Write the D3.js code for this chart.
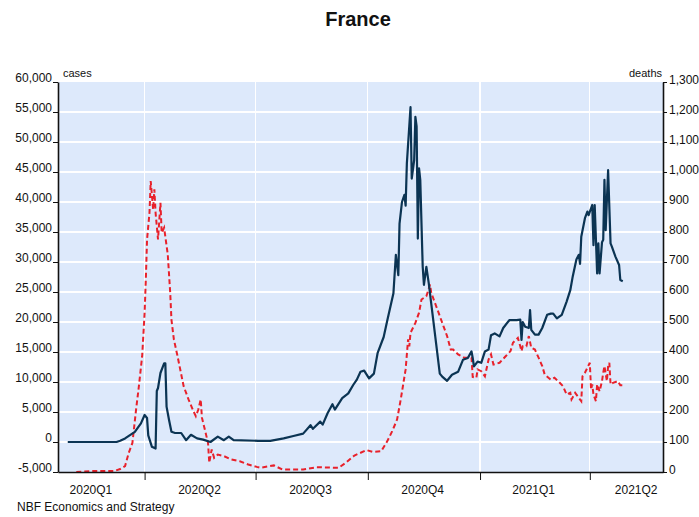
<!DOCTYPE html>
<meta charset="utf-8">
<style>
body { margin: 0; background: #fff; }
svg text { font-family: Arial, "Liberation Sans", sans-serif; fill: #111; }
.axis path, .axis line { stroke: #111; }
.grid line { stroke: #fff; stroke-width: 1.3; shape-rendering: crispEdges; }
</style>
<body>
<svg width="699" height="517"></svg>
<script src="https://d3js.org/d3.v7.min.js"></script>
<script>

// daily new cases (left axis)
var caseDates = ["2020-01-29","2020-03-09","2020-03-12","2020-03-16","2020-03-24","2020-03-29","2020-04-01","2020-04-03","2020-04-04","2020-04-07",
  "2020-04-10","2020-04-11","2020-04-12","2020-04-14","2020-04-17","2020-04-18","2020-04-19","2020-04-21","2020-04-23","2020-04-26",
  "2020-05-01","2020-05-05","2020-05-09","2020-05-14","2020-05-19","2020-05-25","2020-05-31","2020-06-05","2020-06-09","2020-06-13",
  "2020-07-03","2020-07-13","2020-07-24","2020-08-01","2020-08-09","2020-08-15","2020-08-17","2020-08-23","2020-08-25","2020-08-29",
  "2020-09-02","2020-09-04","2020-09-10","2020-09-15","2020-09-19","2020-09-22","2020-09-25","2020-09-28","2020-10-02","2020-10-06",
  "2020-10-09","2020-10-14","2020-10-17","2020-10-22","2020-10-24","2020-10-26","2020-10-27","2020-10-29","2020-10-31","2020-11-01",
  "2020-11-02","2020-11-05","2020-11-06","2020-11-08","2020-11-09","2020-11-10","2020-11-11","2020-11-12","2020-11-13","2020-11-15",
  "2020-11-16","2020-11-18","2020-11-20","2020-11-23","2020-11-26","2020-11-29","2020-12-01","2020-12-05","2020-12-09","2020-12-14",
  "2020-12-18","2020-12-22","2020-12-25","2020-12-26","2020-12-27","2020-12-30","2021-01-02","2021-01-05","2021-01-08","2021-01-10",
  "2021-01-13","2021-01-17","2021-01-20","2021-01-25","2021-01-31","2021-02-03","2021-02-04","2021-02-05","2021-02-07","2021-02-10",
  "2021-02-11","2021-02-12","2021-02-15","2021-02-18","2021-02-21","2021-02-25","2021-02-28","2021-03-02","2021-03-05","2021-03-09",
  "2021-03-13","2021-03-16","2021-03-18","2021-03-21","2021-03-23","2021-03-24","2021-03-25","2021-03-28","2021-03-30","2021-03-31",
  "2021-04-03","2021-04-04","2021-04-05","2021-04-07","2021-04-08","2021-04-09","2021-04-11","2021-04-12","2021-04-13","2021-04-14",
  "2021-04-16","2021-04-18","2021-04-19","2021-04-22","2021-04-25","2021-04-26","2021-04-28"];
var caseValues = [0,0,200,600,1700,3100,4500,4000,1100,-800,
  -1100,8500,9000,11500,13100,13100,5900,3700,1700,1500,
  1500,300,1200,600,400,0,900,300,900,300,
  200,200,600,1000,1400,2800,2200,3400,2900,4800,
  6300,5400,7300,8100,9500,10400,11700,11900,10600,11400,
  14800,17500,20300,24800,31200,27800,36400,40000,41200,39400,
  46400,55800,43900,47000,54200,52600,33900,45600,43700,29200,
  26200,29200,26400,21400,16400,11400,10900,10200,11200,11700,
  13700,14000,15100,14000,12600,13400,13200,15100,15400,17800,
  18100,17600,19000,20300,20300,20400,17000,20000,19200,19000,
  22000,18700,17900,17900,19000,21200,21400,21400,20600,21200,
  23400,25300,27600,30400,31200,29700,34200,37300,38400,37800,
  39500,32800,39500,28100,33100,28100,33300,33700,43700,35300,
  45300,33100,32600,30900,29500,27000,26800];

// daily deaths (right axis)
var deathDates = ["2020-02-05","2020-02-17","2020-03-07","2020-03-12","2020-03-16","2020-03-19","2020-03-22","2020-03-25","2020-03-27","2020-03-30",
  "2020-04-01","2020-04-02","2020-04-03","2020-04-05","2020-04-06","2020-04-08","2020-04-09","2020-04-10","2020-04-12","2020-04-14",
  "2020-04-15","2020-04-17","2020-04-20","2020-04-22","2020-04-23","2020-04-25","2020-04-28","2020-05-03","2020-05-07","2020-05-11",
  "2020-05-13","2020-05-15","2020-05-17","2020-05-18","2020-05-21","2020-05-23","2020-05-24","2020-05-26","2020-05-28","2020-05-31",
  "2020-06-05","2020-06-11","2020-06-18","2020-06-25","2020-07-02","2020-07-05","2020-07-16","2020-07-23","2020-08-09","2020-08-20",
  "2020-09-07","2020-09-13","2020-09-20","2020-09-30","2020-10-05","2020-10-12","2020-10-17","2020-10-21","2020-10-25","2020-10-28",
  "2020-11-01","2020-11-03","2020-11-04","2020-11-05","2020-11-09","2020-11-12","2020-11-14","2020-11-18","2020-11-21","2020-11-22",
  "2020-11-25","2020-11-28","2020-12-02","2020-12-05","2020-12-08","2020-12-10","2020-12-14","2020-12-19","2020-12-25","2020-12-26",
  "2020-12-29","2020-12-30","2021-01-02","2021-01-05","2021-01-08","2021-01-10","2021-01-12","2021-01-17","2021-01-22","2021-01-26",
  "2021-01-28","2021-02-01","2021-02-03","2021-02-04","2021-02-05","2021-02-08","2021-02-10","2021-02-12","2021-02-15","2021-02-18",
  "2021-02-21","2021-02-23","2021-02-28","2021-03-03","2021-03-06","2021-03-10","2021-03-13","2021-03-16","2021-03-17","2021-03-20",
  "2021-03-23","2021-03-25","2021-03-26","2021-03-28","2021-04-01","2021-04-02","2021-04-03","2021-04-04","2021-04-06","2021-04-07",
  "2021-04-09","2021-04-11","2021-04-12","2021-04-13","2021-04-15","2021-04-16","2021-04-17","2021-04-18","2021-04-20","2021-04-24",
  "2021-04-26","2021-04-28"];
var deathValues = [0,3,3,10,20,64,97,208,275,386,
  530,641,775,864,970,875,942,864,775,897,
  797,814,725,597,508,442,386,286,242,203,
  186,208,242,181,131,97,31,75,47,58,
  53,42,36,25,17,14,22,8,8,16,
  14,31,55,73,67,69,103,136,175,242,
  342,442,419,464,497,531,575,586,625,597,
  564,531,486,453,408,408,392,381,381,317,
  314,342,336,319,375,392,358,364,386,403,
  431,447,419,403,419,419,453,414,408,381,
  353,325,308,314,303,286,258,264,242,264,
  247,236,319,331,364,275,292,258,236,292,
  269,303,331,353,303,353,364,292,297,303,
  289,289];

var quarterStarts = ["2020-04-01","2020-07-01","2020-10-01","2021-01-01","2021-04-01"];
var quarterLabels = ["2020Q1","2020Q2","2020Q3","2020Q4","2021Q1","2021Q2"];
var quarterLabelDates = ["2020-02-17","2020-05-16","2020-08-15","2020-11-15","2021-02-14","2021-05-09"];

var caseTicks = d3.range(-5000, 60001, 5000);
var deathTicks = d3.range(0, 1301, 100);

var parse = d3.timeParse("%Y-%m-%d");

var svg = d3.select("svg");
var plotLeft = 58, plotRight = 663, plotTop = 82, plotBottom = 472;

var x = d3.scaleTime()
  .domain([parse("2020-01-21"), parse("2021-05-31")])
  .range([plotLeft, plotRight]);

var yCases = d3.scaleLinear().domain([-5000, 60000]).range([plotBottom, plotTop]);
var yDeaths = d3.scaleLinear().domain([0, 1300]).range([plotBottom, plotTop]);

var fmt = function(d){ return d3.format(",")(d).replace("\u2212", "-"); };

// plot background
svg.append("rect")
  .attr("x", plotLeft).attr("y", plotTop)
  .attr("width", plotRight - plotLeft).attr("height", plotBottom - plotTop)
  .attr("fill", "#dde9fb");

// grid
var grid = svg.append("g").attr("class", "grid");
grid.selectAll(".hline")
  .data(caseTicks.slice(1, -1))
  .enter().append("line")
  .attr("x1", plotLeft).attr("x2", plotRight)
  .attr("y1", yCases).attr("y2", yCases);
grid.selectAll(".vline")
  .data(quarterStarts)
  .enter().append("line")
  .attr("x1", function(d){ return x(parse(d)); })
  .attr("x2", function(d){ return x(parse(d)); })
  .attr("y1", plotTop).attr("y2", plotBottom);

// series
var cases = caseDates.map(function(d, i){ return {date: parse(d), v: caseValues[i]}; });
var deaths = deathDates.map(function(d, i){ return {date: parse(d), v: deathValues[i]}; });

svg.append("path")
  .datum(deaths)
  .attr("fill", "none")
  .attr("stroke", "#e8212b")
  .attr("stroke-width", 2)
  .attr("stroke-dasharray", "5,3")
  .attr("d", d3.line().x(function(d){ return x(d.date); }).y(function(d){ return yDeaths(d.v); }));

svg.append("path")
  .datum(cases)
  .attr("fill", "none")
  .attr("stroke", "#0b3453")
  .attr("stroke-width", 2.2)
  .attr("stroke-linejoin", "round")
  .attr("d", d3.line().x(function(d){ return x(d.date); }).y(function(d){ return yCases(d.v); }));

// axes
var yLeft = svg.append("g")
  .attr("class", "axis")
  .attr("transform", "translate(" + plotLeft + ",0)")
  .call(d3.axisLeft(yCases).tickValues(caseTicks).tickFormat(fmt).tickSize(5).tickSizeOuter(0).tickPadding(1));
yLeft.selectAll("text").attr("dy", "-0.05em").style("font-size", "12px");

var yRight = svg.append("g")
  .attr("class", "axis")
  .attr("transform", "translate(" + plotRight + ",0)")
  .call(d3.axisRight(yDeaths).tickValues(deathTicks).tickFormat(fmt).tickSize(4).tickSizeOuter(0).tickPadding(2));
yRight.selectAll("text").attr("dy", "0.1em").style("font-size", "12px");

var xAxis = svg.append("g")
  .attr("class", "axis")
  .attr("transform", "translate(0," + plotBottom + ")")
  .call(d3.axisBottom(x).tickValues(quarterStarts.map(parse)).tickFormat("").tickSize(8).tickSizeOuter(0));

svg.selectAll(".axis path").attr("stroke-width", 1.6);

svg.selectAll(".qlabel")
  .data(quarterLabels)
  .enter().append("text")
  .attr("class", "qlabel")
  .attr("x", function(d, i){ return x(parse(quarterLabelDates[i])); })
  .attr("y", 494)
  .attr("text-anchor", "middle")
  .style("font-size", "12px")
  .text(function(d){ return d; });

// titles
svg.append("text")
  .attr("x", 358).attr("y", 26)
  .attr("text-anchor", "middle")
  .style("font-size", "20px").style("font-weight", "bold")
  .text("France");

svg.append("text")
  .attr("x", 63).attr("y", 77)
  .style("font-size", "11px")
  .text("cases");

svg.append("text")
  .attr("x", 662).attr("y", 77)
  .attr("text-anchor", "end")
  .style("font-size", "11px")
  .text("deaths");

svg.append("text")
  .attr("x", 17).attr("y", 511)
  .style("font-size", "12px")
  .text("NBF Economics and Strategy");

</script>
</body>
</html>
